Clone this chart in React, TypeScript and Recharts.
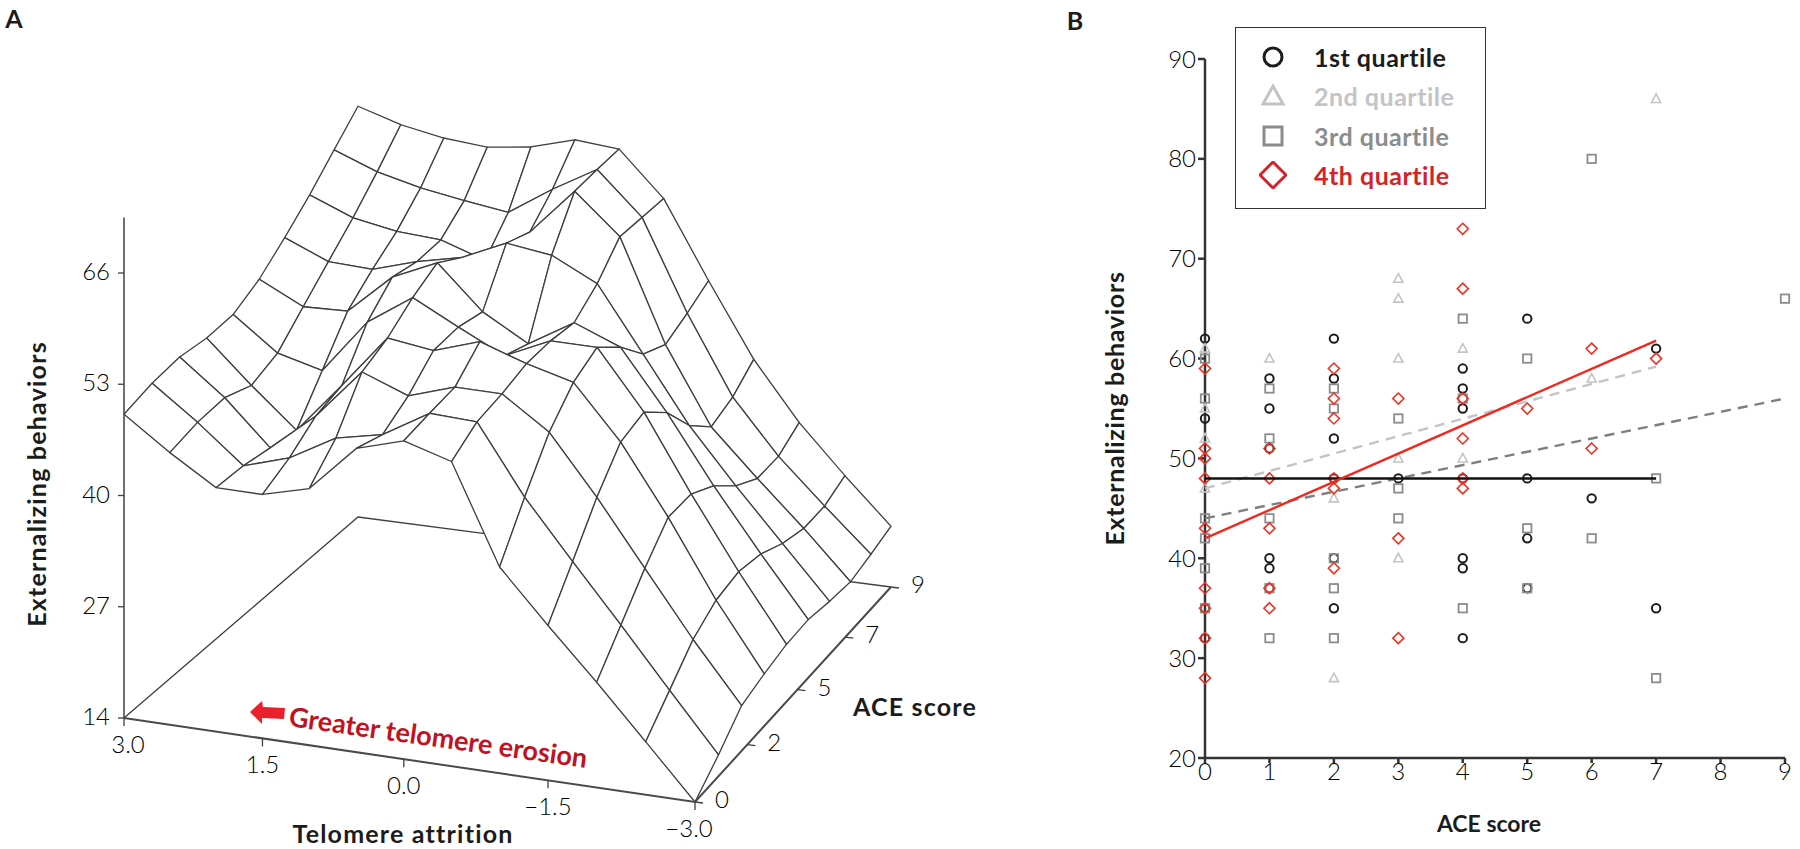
import { Legend, Scatter, ScatterChart, XAxis, YAxis } from "recharts";

// panel A: externalizing behaviors read at each (ACE row, attrition column) node of the surface
const attritionSteps = [3, 2.5, 2, 1.5, 1, 0.5, 0, -0.5, -1, -1.5, -2, -2.5, -3];
const aceSteps = [0, 1, 2, 3, 4, 5, 6, 7, 8, 9];
const surfaceAce0 = [49.5, 45.8, 42.5, 42.5, 44, 49.5, 51.2, 49.6, 38.1, 32.1, 26.3, 20.2, 14];
const surfaceAce1 = [50.3, 46.5, 42.2, 43.9, 47, 48.2, 51.5, 51.3, 43.3, 36.6, 30, 23.2, 16.5];
const surfaceAce2 = [50.6, 46.6, 41.5, 46, 51.9, 49.9, 51.7, 51.7, 48, 41.2, 33.7, 26.2, 19.3];
const surfaceAce3 = [50.1, 45.3, 40.8, 46.8, 53.1, 52.4, 54.2, 52.4, 51, 44.8, 36.8, 27.9, 20.1];
const surfaceAce4 = [50.2, 46.4, 45.1, 51.5, 55.1, 52.4, 49.8, 52.3, 52.3, 45.5, 36.7, 28.4, 20.7];
const surfaceAce5 = [51.7, 49.2, 49.4, 54.1, 56.5, 51.5, 48.5, 51.7, 49.6, 42.7, 34.9, 27.7, 20.8];
const surfaceAce6 = [54, 51.9, 51.7, 53.3, 54.5, 56.9, 56.2, 53.6, 46.1, 38.5, 32.2, 26.2, 20.2];
const surfaceAce7 = [56.5, 54.5, 53.6, 53.3, 51.6, 55.6, 61.1, 56.5, 44.6, 35.7, 30.4, 25.3, 19.8];
const surfaceAce8 = [59.3, 57.4, 56.2, 55.4, 54.7, 58.1, 61.1, 56.2, 45.7, 36.6, 30.4, 25.3, 20.4];
const surfaceAce9 = [62, 60.5, 59.6, 59.2, 59.9, 61.4, 61, 55.9, 47, 38.5, 31.8, 26.3, 21.1];
const surfaceRows = [
  surfaceAce0, surfaceAce1, surfaceAce2, surfaceAce3, surfaceAce4,
  surfaceAce5, surfaceAce6, surfaceAce7, surfaceAce8, surfaceAce9,
];
const zTicks = [14, 27, 40, 53, 66];
const attritionTicks = [3, 1.5, 0, -1.5, -3];
const aceTicks = [0, 2.25, 4.5, 6.75, 9];

// panel B: [ACE score, externalizing behaviors]
const quartile1 = [
  [0, 62], [0, 54], [0, 35], [0, 32],
  [1, 58], [1, 55], [1, 51], [1, 40], [1, 39], [1, 37],
  [2, 62], [2, 58], [2, 52], [2, 48], [2, 40], [2, 35],
  [3, 48],
  [4, 59], [4, 57], [4, 55], [4, 48], [4, 40], [4, 39], [4, 32],
  [5, 64], [5, 48], [5, 42], [5, 37],
  [6, 46],
  [7, 61], [7, 35],
];
const quartile2 = [
  [0, 61], [0, 55], [0, 52], [0, 47],
  [1, 60],
  [2, 46], [2, 28],
  [3, 68], [3, 66], [3, 60], [3, 50], [3, 40],
  [4, 61], [4, 50],
  [6, 58],
  [7, 86],
];
const quartile3 = [
  [0, 60], [0, 56], [0, 44], [0, 42], [0, 39], [0, 35],
  [1, 57], [1, 52], [1, 44], [1, 37], [1, 32],
  [2, 57], [2, 55], [2, 40], [2, 37], [2, 32],
  [3, 54], [3, 47], [3, 44],
  [4, 64], [4, 56], [4, 35],
  [5, 60], [5, 43], [5, 37],
  [6, 80], [6, 42],
  [7, 48], [7, 28],
  [9, 66],
];
const quartile4 = [
  [0, 59], [0, 51], [0, 50], [0, 48], [0, 43], [0, 37], [0, 35], [0, 32], [0, 28],
  [1, 51], [1, 48], [1, 43], [1, 37], [1, 35],
  [2, 59], [2, 56], [2, 54], [2, 48], [2, 47], [2, 39],
  [3, 56], [3, 42], [3, 32],
  [4, 73], [4, 67], [4, 56], [4, 52], [4, 48], [4, 47],
  [5, 55],
  [6, 61], [6, 51],
  [7, 60],
];
const trend1 = [[0, 48], [7, 48]];
const trend2 = [[0, 47], [7, 59.2]];
const trend3 = [[0, 44], [9, 56]];
const trend4 = [[0, 42], [7, 61.8]];
const xTicksB = [0, 1, 2, 3, 4, 5, 6, 7, 8, 9];
const yTicksB = [20, 30, 40, 50, 60, 70, 80, 90];

const FONT = "Lato, sans-serif";
const INK = "#1c1c1c";
const MESH = "#3f3f3f";
const GREY_LIGHT = "#c2c4c6";
const GREY_DARK = "#8a8c8e";
const RED = "#ee3124";
const RED_LEGEND = "#d2232a";

// the oblique view of the 3D box, as read from the floor corners and the z axis
function project(attrition: number, ace: number, z: number) {
  const a = (3 - attrition) / 6;
  const b = ace / 9;
  const f = a - 0.04 * a * (1 - a);
  const g = b + 0.09 * b * (1 - b);
  const left = 124 + 234 * g;
  const right = 695 + 196 * g;
  const floor = 718 - 201 * g + f * (84 - 14 * g);
  return { x: left + (right - left) * f, y: floor - ((z - 14) * 111.25) / 13 };
}

// far quads first, so nearer ones hide them
const quads: { x: number; y: number }[][] = [];
for (let j = aceSteps.length - 2; j >= 0; j--) {
  for (let i = 0; i < attritionSteps.length - 1; i++) {
    quads.push([
      project(attritionSteps[i], aceSteps[j], surfaceRows[j][i]),
      project(attritionSteps[i + 1], aceSteps[j], surfaceRows[j][i + 1]),
      project(attritionSteps[i + 1], aceSteps[j + 1], surfaceRows[j + 1][i + 1]),
      project(attritionSteps[i], aceSteps[j + 1], surfaceRows[j + 1][i]),
      project(attritionSteps[i], aceSteps[j], surfaceRows[j][i]),
    ]);
  }
}

const noMark = () => null;

const floorBack = [project(3, 0, 14), project(3, 9, 14), project(-3, 9, 14)];
const floorFront = [project(3, 0, 14), project(-3, 0, 14), project(-3, 9, 14)];
const zAxisLine = [project(3, 0, 14), project(3, 0, 72.5)];

const textA = { fontFamily: FONT, fontSize: 24, fontWeight: 300, fill: "#000" };
const titleStyle = { fontFamily: FONT, fontSize: 25, fontWeight: 700, fill: INK, letterSpacing: 1.2 };
const letterStyle = { fontFamily: FONT, fontSize: 25, fontWeight: 700, fill: INK };

function ZTick({ cx, cy, payload }: any) {
  return (
    <g>
      <line x1={cx - 6} y1={cy} x2={cx} y2={cy} stroke={MESH} strokeWidth={1.3} />
      <text x={cx - 14} y={cy + 7} textAnchor="end" {...textA}>{payload.label}</text>
    </g>
  );
}

function AttritionTick({ cx, cy, payload }: any) {
  const label = payload.label;
  return (
    <g>
      <line x1={cx} y1={cy} x2={cx} y2={cy + 8} stroke={MESH} strokeWidth={1.3} />
      <text x={cx + (payload.attrition === 3 ? 4 : payload.attrition === -3 ? -6 : 0)} y={cy + 35} textAnchor="middle" {...textA}>{label}</text>
    </g>
  );
}

function AceTick({ cx, cy, payload }: any) {
  return (
    <g>
      <line x1={cx} y1={cy} x2={cx + 8} y2={cy + 1} stroke={MESH} strokeWidth={1.3} />
      <text x={cx + 20} y={cy + 6} {...textA}>{payload.label}</text>
    </g>
  );
}

const circleMark = ({ cx, cy }: any) => (
  <circle cx={cx} cy={cy} r={4.2} fill="none" stroke={INK} strokeWidth={2} />
);
const triangleMark = ({ cx, cy }: any) => (
  <path d={`M${cx},${cy - 5}L${cx + 4.6},${cy + 3.5}L${cx - 4.6},${cy + 3.5}Z`} fill="none" stroke={GREY_LIGHT} strokeWidth={1.6} />
);
const squareMark = ({ cx, cy }: any) => (
  <rect x={cx - 4.2} y={cy - 4.2} width={8.4} height={8.4} fill="none" stroke={GREY_DARK} strokeWidth={1.8} />
);
const diamondMark = ({ cx, cy }: any) => (
  <path d={`M${cx},${cy - 5.5}L${cx + 5.5},${cy}L${cx},${cy + 5.5}L${cx - 5.5},${cy}Z`} fill="none" stroke={RED} strokeWidth={1.6} />
);

const legendRows = [
  { name: "1st quartile", color: INK, symbol: <circle cx={14} cy={14} r={9} fill="none" stroke={INK} strokeWidth={3} /> },
  { name: "2nd quartile", color: GREY_LIGHT, symbol: <path d="M14,4L24,22L4,22Z" fill="none" stroke={GREY_LIGHT} strokeWidth={3} /> },
  { name: "3rd quartile", color: GREY_DARK, symbol: <rect x={5} y={5} width={18} height={18} fill="none" stroke={GREY_DARK} strokeWidth={3} /> },
  { name: "4th quartile", color: RED_LEGEND, symbol: <path d="M14,1L27,14L14,27L1,14Z" fill="none" stroke={RED_LEGEND} strokeWidth={3} /> },
];

function QuartileLegend() {
  return (
    <div style={{ boxSizing: "border-box", width: 251, height: 182, border: "1.5px solid #333", background: "#fff", paddingTop: 9 }}>
      {legendRows.map((r) => (
        <div key={r.name} style={{ display: "flex", alignItems: "center", height: 39.5 }}>
          <svg width={28} height={28} style={{ marginLeft: 23 }}>{r.symbol}</svg>
          <span style={{ marginLeft: 27, fontFamily: FONT, fontSize: 25, fontWeight: 700, letterSpacing: 0.5, color: r.color }}>{r.name}</span>
        </div>
      ))}
    </div>
  );
}

const toPoints = (rows: number[][]) => rows.map(([x, y]) => ({ x, y }));

function SurfacePanel() {
  return (
    <ScatterChart width={1000} height={849} margin={{ top: 0, right: 0, bottom: 0, left: 0 }}>
      <XAxis type="number" dataKey="x" domain={[0, 1000]} hide />
      <YAxis type="number" dataKey="y" domain={[0, 849]} reversed hide />
      <Scatter data={floorBack} shape={noMark} line={{ stroke: MESH, strokeWidth: 1.3 }} isAnimationActive={false} />
      <Scatter data={zAxisLine} shape={noMark} line={{ stroke: MESH, strokeWidth: 1.5 }} isAnimationActive={false} />
      {quads.map((q, k) => (
        <Scatter
          key={k}
          data={q}
          shape={noMark}
          line={{ fill: "#fff", stroke: MESH, strokeWidth: 1.3 }}
          isAnimationActive={false}
        />
      ))}
      <Scatter data={floorFront} shape={noMark} line={{ stroke: "#4a4a4a", strokeWidth: 2 }} isAnimationActive={false} />
      <Scatter
        data={zTicks.map((z) => ({ ...project(3, 0, z), label: String(z) }))}
        shape={ZTick}
        isAnimationActive={false}
      />
      <Scatter
        data={attritionTicks.map((a) => ({
          ...project(a, 0, 14),
          attrition: a,
          label: (a < 0 ? "\u2212" : "") + Math.abs(a).toFixed(1),
        }))}
        shape={AttritionTick}
        isAnimationActive={false}
      />
      <Scatter
        data={aceTicks.map((v) => ({ ...project(-3, v, 14), label: String(Math.round(v)) }))}
        shape={AceTick}
        isAnimationActive={false}
      />
      <text x={14} y={28} textAnchor="middle" style={letterStyle}>A</text>
      <text transform="translate(46,484) rotate(-90)" textAnchor="middle" style={titleStyle}>Externalizing behaviors</text>
      <text x={403} y={843} textAnchor="middle" style={titleStyle}>Telomere attrition</text>
      <text x={915} y={716} textAnchor="middle" style={titleStyle}>ACE score</text>
      <path d="M250,712L262,701L263,707L285,708L284,719L262,718L262,724Z" fill="#e8212b" />
      <text
        transform="translate(437,747) rotate(8)"
        textAnchor="middle"
        style={{ fontFamily: FONT, fontSize: 27, fontWeight: 700, fill: "#c1121f" }}
      >
        Greater telomere erosion
      </text>
    </ScatterChart>
  );
}

function QuartilePanel() {
  const axisTick = { fontFamily: FONT, fontSize: 24, fontWeight: 300, fill: "#000" };
  return (
    <ScatterChart width={800} height={849} margin={{ top: 59, right: 15, bottom: 31, left: 105 }}>
      <XAxis
        type="number"
        dataKey="x"
        domain={[0, 9]}
        ticks={xTicksB}
        interval={0}
        height={60}
        tickSize={5}
        tickMargin={0}
        tick={axisTick}
        stroke="#333"
        strokeWidth={2.5}
        label={{ value: "ACE score", position: "insideBottom", offset: -14, dx: -6, style: { ...titleStyle, fontSize: 23, letterSpacing: 0 } }}
      />
      <YAxis
        type="number"
        dataKey="y"
        domain={[20, 90]}
        ticks={yTicksB}
        interval={0}
        width={100}
        tickSize={7}
        tick={axisTick}
        stroke="#333"
        strokeWidth={2.5}
        label={{
          value: "Externalizing behaviors",
          angle: -90,
          position: "insideLeft",
          offset: 10,
          style: { ...titleStyle, letterSpacing: 0.7, textAnchor: "middle" },
        }}
      />
      <Scatter data={toPoints(quartile1)} shape={circleMark} isAnimationActive={false} />
      <Scatter data={toPoints(quartile2)} shape={triangleMark} isAnimationActive={false} />
      <Scatter data={toPoints(quartile3)} shape={squareMark} isAnimationActive={false} />
      <Scatter data={toPoints(quartile4)} shape={diamondMark} isAnimationActive={false} />
      <Scatter data={toPoints(trend2)} shape={noMark} line={{ stroke: GREY_LIGHT, strokeWidth: 2.4, strokeDasharray: "10 7" }} isAnimationActive={false} />
      <Scatter data={toPoints(trend3)} shape={noMark} line={{ stroke: "#7d7f81", strokeWidth: 2.4, strokeDasharray: "10 7" }} isAnimationActive={false} />
      <Scatter data={toPoints(trend1)} shape={noMark} line={{ stroke: "#111", strokeWidth: 2.5 }} isAnimationActive={false} />
      <Scatter data={toPoints(trend4)} shape={noMark} line={{ stroke: "#f0281e", strokeWidth: 2.4 }} isAnimationActive={false} />
      <text x={75} y={30} textAnchor="middle" style={letterStyle}>B</text>
      <Legend
        layout="vertical"
        align="center"
        verticalAlign="middle"
        content={<QuartileLegend />}
        wrapperStyle={{ left: 235, top: 27, width: 251, height: 182 }}
      />
    </ScatterChart>
  );
}

export default function App() {
  return (
    <div style={{ position: "absolute", left: 0, top: 0, width: 1800, height: 849, background: "#fff", overflow: "hidden" }}>
      <div style={{ position: "absolute", left: 0, top: 0 }}>
        <SurfacePanel />
      </div>
      <div style={{ position: "absolute", left: 1000, top: 0 }}>
        <QuartilePanel />
      </div>
    </div>
  );
}
